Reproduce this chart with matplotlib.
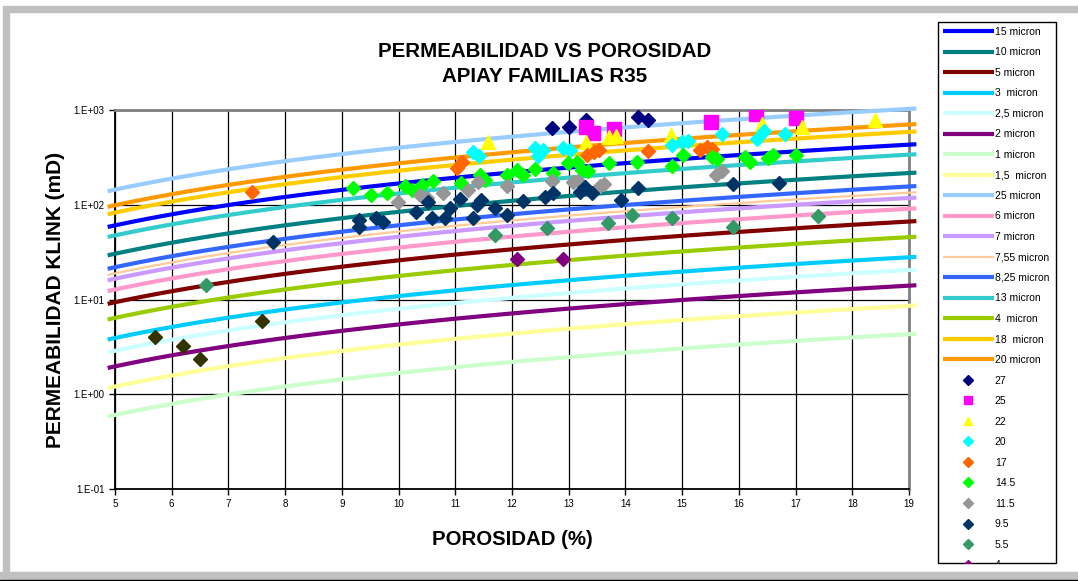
import numpy as np
import matplotlib.pyplot as plt
from matplotlib.patches import Rectangle
from matplotlib.transforms import Bbox, TransformedBbox

plt.rcParams['font.family'] = ['Liberation Sans', 'DejaVu Sans']

# Winland: log r35 = 0.732 + 0.588 log k - 0.864 log phi
WA, WB, WC = 0.732, 0.588, 0.864

r35_values = [15, 10, 5, 3, 2.5, 2, 1, 1.5, 25, 6, 7, 7.55, 8.25, 13, 4, 18, 20]
r35_labels = ['15 micron', '10 micron', '5 micron', '3  micron', '2,5 micron',
              '2 micron', '1 micron', '1,5  micron', '25 micron', '6 micron',
              '7 micron', '7,55 micron', '8,25 micron', '13 micron', '4  micron',
              '18  micron', '20 micron']
r35_colors = ['#0000FF', '#008080', '#800000', '#00CCFF', '#CCFFFF', '#800080',
              '#CCFFCC', '#FFFF99', '#99CCFF', '#FF99CC', '#CC99FF', '#FFCC99',
              '#3366FF', '#33CCCC', '#99CC00', '#FFCC00', '#FF9900']
phi_curve = np.linspace(4.87, 19.13, 120)

# muestras por familia
phi_27 = [12.71, 13.01, 13.31, 14.22, 14.40]
k_27 = [646, 662, 785, 844, 785]
phi_25 = [13.31, 13.43, 13.80, 15.51, 16.30, 17.01]
k_25 = [661, 572, 630, 747, 907, 824]
phi_22 = [11.58, 13.31, 13.71, 13.83, 14.80, 16.41, 17.11, 18.40]
k_22 = [459, 459, 519, 532, 545, 711, 661, 783]
phi_20 = [11.31, 11.42, 12.41, 12.46, 12.55, 12.90, 13.02, 14.82, 15.00, 15.10,
          15.70, 16.32, 16.44, 16.81]
k_20 = [361, 327, 398, 327, 378, 398, 378, 427, 459, 471, 558, 494, 600, 558]
phi_17 = [7.42, 11.03, 11.12, 13.32, 13.45, 13.53, 14.40, 15.32, 15.44, 15.53]
k_17 = [136, 244, 283, 335, 361, 378, 369, 378, 407, 388]
phi_145 = [9.20, 9.51, 9.80, 10.11, 10.24, 10.41, 10.61, 11.10, 11.44, 11.52,
           11.91, 12.09, 12.19, 12.41, 12.72, 12.99, 13.15, 13.23, 13.34, 13.71,
           14.20, 14.82, 15.02, 15.53, 15.62, 16.11, 16.20, 16.51, 16.60, 17.01]
k_145 = [150, 127, 133, 158, 143, 162, 178, 170, 206, 182,
         206, 233, 206, 238, 216, 276, 283, 233, 227, 276,
         283, 256, 335, 319, 304, 319, 283, 311, 335, 335]
phi_115 = [9.99, 10.38, 10.50, 10.78, 11.22, 11.40, 11.91, 12.71, 13.08, 13.16,
           13.55, 13.62, 15.60, 15.70]
k_115 = [107, 127, 118, 133, 143, 174, 158, 178, 174, 178, 158, 166, 206, 227]
phi_95 = [7.79, 9.30, 9.30, 9.60, 9.73, 10.31, 10.52, 10.59, 10.82, 10.91,
          11.08, 11.31, 11.38, 11.45, 11.70, 11.91, 12.19, 12.58, 12.72, 13.20,
          13.29, 13.41, 13.92, 14.22, 15.90, 16.71]
k_95 = [40.5, 69, 58, 72, 66, 84, 107, 72, 72, 92,
        115, 72, 99, 112, 92, 78, 110, 121, 133, 136,
        154, 133, 112, 150, 166, 170]
phi_55 = [6.60, 11.70, 12.62, 13.69, 14.12, 14.82, 15.90, 17.40]
k_55 = [14.2, 48, 57, 64, 78, 72, 58, 76]
phi_4 = [12.09, 12.90]
k_4 = [26.7, 26.7]
phi_2 = [5.71, 6.20, 6.50, 7.59]
k_2 = [4.02, 3.23, 2.36, 5.93]

point_series = [
    ('27', phi_27, k_27, 'D', '#000080', 7.5),
    ('25', phi_25, k_25, 's', '#FF00FF', 10),
    ('22', phi_22, k_22, '^', '#FFFF00', 10),
    ('20', phi_20, k_20, 'D', '#00FFFF', 7.5),
    ('17', phi_17, k_17, 'D', '#FF6600', 7.5),
    ('14.5', phi_145, k_145, 'D', '#00FF00', 7.5),
    ('11.5', phi_115, k_115, 'D', '#969696', 7.5),
    ('9.5', phi_95, k_95, 'D', '#003366', 7.5),
    ('5.5', phi_55, k_55, 'D', '#339966', 7.5),
    ('4', phi_4, k_4, 'D', '#800080', 7.5),
    ('2', phi_2, k_2, 'D', '#333300', 7.5),
]

fig = plt.figure(figsize=(10.78, 5.81), dpi=100)
ax = fig.add_axes([115 / 1078, 1 - 489 / 581, 794 / 1078, 379 / 581])

for r35, lab, col in zip(r35_values, r35_labels, r35_colors):
    k = 10 ** ((np.log10(r35) - WA + WC * np.log10(phi_curve)) / WB)
    lw = 1.6 if lab.startswith('7,55') else 3.0
    ax.plot(phi_curve, k, color=col, lw=lw, label=lab, clip_on=False,
            solid_capstyle='butt', zorder=3)

for lab, x, y, m, col, ms in point_series:
    ax.plot(x, y, ls='none', marker=m, color=col, ms=ms, mec=col, label=lab,
            zorder=5)

ax.set_yscale('log')
ax.set_xlim(5, 19)
ax.set_ylim(0.1, 1000)
ax.set_xticks(range(5, 20))
ax.set_yticks([0.1, 1, 10, 100, 1000])
ax.set_yticklabels(['1.E-01', '1.E+00', '1.E+01', '1.E+02', '1.E+03'])
ax.yaxis.set_minor_locator(plt.NullLocator())
ax.tick_params(axis='both', labelsize=7, direction='out', length=4, width=1)
ax.tick_params(axis='x', pad=3)
ax.grid(True, which='major', color='black', lw=0.9, zorder=1)
for s in ['left', 'bottom']:
    ax.spines[s].set_color('black')
    ax.spines[s].set_linewidth(1.3)
for s in ['top', 'right']:
    ax.spines[s].set_color('#808080')
    ax.spines[s].set_linewidth(2)

ax.set_xlabel('POROSIDAD (%)', fontsize=14.7, fontweight='bold', labelpad=15)
ax.set_ylabel('PERMEABILIDAD KLINK (mD)', fontsize=15, fontweight='bold',
              labelpad=6)
fig.text(545 / 1078, 1 - 64 / 581, 'PERMEABILIDAD VS POROSIDAD\nAPIAY FAMILIAS R35',
         ha='center', va='center', fontsize=14.8, fontweight='bold',
         linespacing=1.45)

# leyenda en caja fija; las entradas que no caben quedan cortadas
box_l, box_r, box_t, box_b = 938, 1056, 22, 563
leg = ax.legend(loc='upper left',
                bbox_to_anchor=(box_l / 1078, 1 - box_t / 581),
                bbox_transform=fig.transFigure, borderaxespad=0, fontsize=7.5,
                handlelength=4.9, handletextpad=0.1, labelspacing=1.01,
                borderpad=0.45, frameon=False, markerscale=0.62)
leg.set_zorder(10)
clip = TransformedBbox(Bbox.from_extents(0, 1 - box_b / 581, 1, 1),
                       fig.transFigure)
for a in leg.findobj():
    if a is not leg:
        a.set_clip_box(clip)
        a.set_clip_on(True)
ax.add_patch(Rectangle((box_l / 1078, 1 - box_b / 581), (box_r - box_l) / 1078,
                       (box_b - box_t) / 581, transform=fig.transFigure,
                       facecolor='white', edgecolor='black', lw=1,
                       clip_on=False, zorder=9))

# marco gris de la hoja
grey = '#C0C0C0'
fig.patches.append(Rectangle((3 / 1078, 1 - 12 / 581), 1, 6 / 581,
                             transform=fig.transFigure, color=grey))
fig.patches.append(Rectangle((3 / 1078, 1 - 576 / 581), 6 / 1078, 564 / 581,
                             transform=fig.transFigure, color=grey))
fig.patches.append(Rectangle((0, 1 - 580 / 581), 1, 8 / 581,
                             transform=fig.transFigure, color=grey))
fig.patches.append(Rectangle((0, 0), 1, 1.5 / 581,
                             transform=fig.transFigure, color='black'))

fig.savefig('out.png', dpi=100)
